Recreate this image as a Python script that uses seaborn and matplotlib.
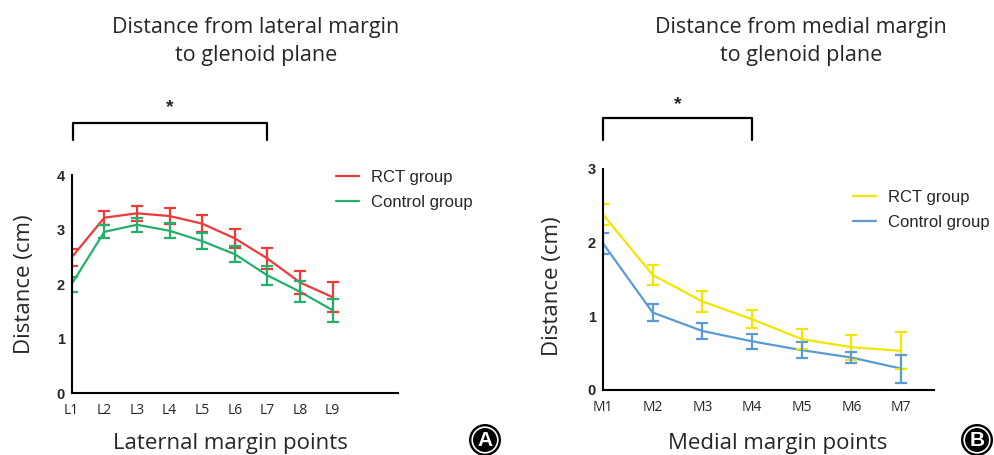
import numpy as np
import pandas as pd
import seaborn as sns
import matplotlib.pyplot as plt
from matplotlib.patches import Circle

# lateral margin (panel A)
lat_points = ['L1', 'L2', 'L3', 'L4', 'L5', 'L6', 'L7', 'L8', 'L9']
lat_rct = [2.49, 3.22, 3.30, 3.25, 3.11, 2.84, 2.47, 2.03, 1.76]
lat_rct_err = [0.15, 0.13, 0.14, 0.14, 0.15, 0.17, 0.19, 0.21, 0.28]
lat_ctrl = [2.00, 2.96, 3.09, 2.98, 2.79, 2.55, 2.16, 1.86, 1.52]
lat_ctrl_err = [0.14, 0.12, 0.13, 0.14, 0.15, 0.15, 0.18, 0.19, 0.21]

# medial margin (panel B)
med_points = ['M1', 'M2', 'M3', 'M4', 'M5', 'M6', 'M7']
med_rct = [2.38, 1.56, 1.20, 0.96, 0.69, 0.58, 0.53]
med_rct_err = [0.14, 0.14, 0.14, 0.12, 0.13, 0.17, 0.25]
med_ctrl = [1.99, 1.05, 0.80, 0.66, 0.54, 0.44, 0.29]
med_ctrl_err = [0.14, 0.11, 0.11, 0.10, 0.11, 0.08, 0.19]

sns.set_style('white')
plt.rcParams['font.family'] = ['Liberation Sans', 'DejaVu Sans']

fig = plt.figure(figsize=(9.95, 4.55), dpi=100)
ax1 = fig.add_axes([0.072, 0.136, 0.328, 0.479])
ax2 = fig.add_axes([0.606, 0.143, 0.333, 0.486])


def draw_panel(ax, points, rct, rct_err, ctrl, ctrl_err, colors, xmax, ymax):
    x = np.arange(len(points))
    df = pd.DataFrame({'x': np.concatenate([x, x]),
                       'y': rct + ctrl,
                       'group': ['RCT group'] * len(x) + ['Control group'] * len(x)})
    sns.lineplot(data=df, x='x', y='y', hue='group', palette=colors,
                 linewidth=1.6, ax=ax)
    ax.errorbar(x, rct, yerr=rct_err, fmt='none', ecolor=colors['RCT group'],
                elinewidth=1.6, capsize=4.5, capthick=1.6)
    ax.errorbar(x, ctrl, yerr=ctrl_err, fmt='none', ecolor=colors['Control group'],
                elinewidth=1.6, capsize=4.5, capthick=1.6)
    ax.set_xlim(0, xmax)
    ax.set_ylim(0, ymax)
    ax.set_xticks(list(x) + [xmax])
    ax.set_xticklabels(points + [''], fontsize=10, family='Open Sans')
    ax.set_yticks(range(ymax + 1))
    ax.set_yticklabels([str(v) for v in range(ymax + 1)], fontsize=10.5, fontweight='bold')
    for s in ['top', 'right']:
        ax.spines[s].set_visible(False)
    for s in ['left', 'bottom']:
        ax.spines[s].set_linewidth(1.5)
        ax.spines[s].set_color('black')
    ax.tick_params(axis='both', direction='out', length=4, width=1.5, color='black')
    ax.tick_params(axis='x', pad=3)
    ax.tick_params(axis='y', pad=1)
    ax.set_xlabel('')
    ax.set_ylabel('Distance (cm)', fontsize=16, family='Open Sans')
    leg = ax.legend(frameon=False, fontsize=12, handlelength=1.35, handletextpad=0.75,
                    labelspacing=0.6, loc='upper left', borderaxespad=0)
    for line in leg.get_lines():
        line.set_linewidth(1.6)
    return leg


leg1 = draw_panel(ax1, lat_points, lat_rct, lat_rct_err, lat_ctrl, lat_ctrl_err,
                  {'RCT group': '#ee3a3a', 'Control group': '#22b06a'}, 10, 4)
leg1.set_bbox_to_anchor((0.79, 1.055), transform=ax1.transAxes)
ax1.yaxis.set_label_coords(-0.112, 0.5)
leg2 = draw_panel(ax2, med_points, med_rct, med_rct_err, med_ctrl, med_ctrl_err,
                  {'RCT group': '#f2e600', 'Control group': '#5b9bd5'}, 6.67, 3)
leg2.set_bbox_to_anchor((0.735, 0.935), transform=ax2.transAxes)
ax2.yaxis.set_label_coords(-0.12, 0.47)

# titles
for cx, lines in [(256, ['Distance from lateral margin', 'to glenoid plane']),
                  (801, ['Distance from medial margin', 'to glenoid plane'])]:
    fig.text(cx / 995, 1 - 27 / 455, lines[0], ha='center', va='center',
             fontsize=15.5, family='Open Sans')
    fig.text(cx / 995, 1 - 55 / 455, lines[1], ha='center', va='center',
             fontsize=15.5, family='Open Sans')

# x labels
fig.text(230 / 995, 1 - 443 / 455, 'Laternal margin points', ha='center', va='center',
         fontsize=16, family='Open Sans')
fig.text(778 / 995, 1 - 443 / 455, 'Medial margin points', ha='center', va='center',
         fontsize=16, family='Open Sans')

# significance brackets
for x0, x1, ytop, ystar in [(72.7, 267, 123, 108), (602.7, 752, 118, 105)]:
    xs = np.array([x0, x0, x1, x1]) / 995
    ys = 1 - np.array([140, ytop, ytop, 140]) / 455
    fig.add_artist(plt.Line2D(xs, ys, color='black', linewidth=1.6))
    fig.text((x0 + x1) / 2 / 995, 1 - ystar / 455, '*', ha='center', va='center',
             fontsize=14, fontweight='bold')

# panel badges (inches so circles stay round)
for cx, label in [(485, 'A'), (977, 'B')]:
    c = (cx / 100, (455 - 440) / 100)
    r = 0.16
    fig.add_artist(Circle(c, r, transform=fig.dpi_scale_trans, facecolor='black',
                          edgecolor='none'))
    fig.add_artist(Circle(c, r * 0.8, transform=fig.dpi_scale_trans, facecolor='black',
                          edgecolor='white', linewidth=1.2))
    fig.text(cx / 995, 1 - 440 / 455, label, ha='center', va='center', color='white',
             fontsize=15, fontweight='bold')

fig.savefig('out.png', dpi=100)
